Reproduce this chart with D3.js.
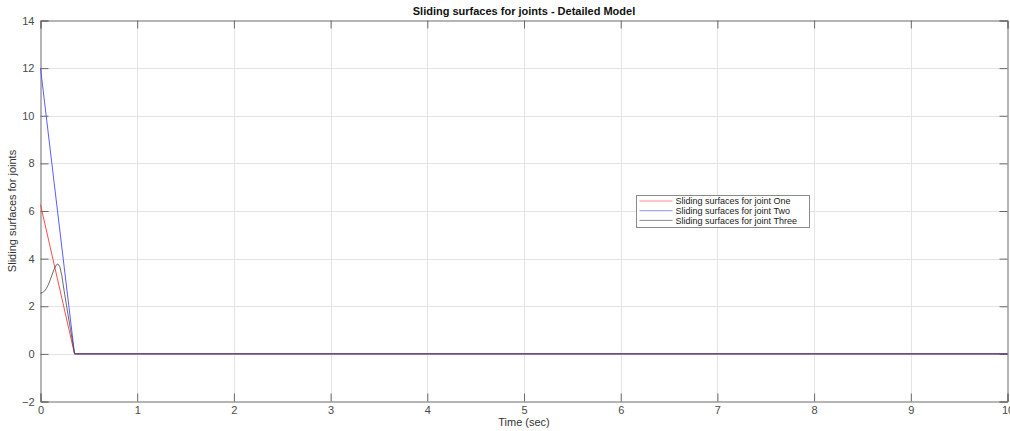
<!DOCTYPE html>
<html>
<head>
<meta charset="utf-8">
<script src="https://cdn.jsdelivr.net/npm/d3@7"></script>
<style>
  html, body { margin: 0; padding: 0; background: #fff; }
  svg { display: block; font-family: "Liberation Sans", Arial, Helvetica, sans-serif; }
</style>
</head>
<body>
<svg id="chart" width="1010" height="431"></svg>
<script>
// Sliding surface trajectories (time in seconds, surface value)
const timeOne   = [0, 0.352, 10];
const valueOne  = [6.27, 0, 0];

const timeTwo   = [0, 0.352, 10];
const valueTwo  = [12.0, 0, 0];

const timeThree  = [0, 0.02, 0.04, 0.06, 0.08, 0.10, 0.12, 0.14, 0.16, 0.18, 0.20, 0.22, 0.25, 0.28, 0.31, 0.352, 10];
const valueThree = [2.55, 2.57, 2.63, 2.74, 2.9, 3.1, 3.33, 3.55, 3.72, 3.78, 3.66, 3.3, 2.5, 1.76, 1.03, 0, 0];

const xTicks = [0, 1, 2, 3, 4, 5, 6, 7, 8, 9, 10];
const yTicks = [-2, 0, 2, 4, 6, 8, 10, 12, 14];

const seriesNames = [
  "Sliding surfaces for joint One",
  "Sliding surfaces for joint Two",
  "Sliding surfaces for joint Three"
];
const seriesColors = ["#ff3a3a", "#4a4aff", "#3a3a3a"];

const svg = d3.select("#chart");
const plotLeft = 40.5, plotRight = 1007.5, plotTop = 20.5, plotBottom = 401.5;

const x = d3.scaleLinear().domain([0, 10]).range([plotLeft, plotRight]);
const y = d3.scaleLinear().domain([-2, 14]).range([plotBottom, plotTop]);

// grid
const grid = svg.append("g");
grid.selectAll(".gx").data(xTicks.slice(1, -1)).join("line")
  .attr("x1", d => Math.round(x(d)) + 0.5).attr("x2", d => Math.round(x(d)) + 0.5)
  .attr("y1", plotTop).attr("y2", plotBottom)
  .attr("stroke", "#e4e4e4").attr("stroke-width", 1);
grid.selectAll(".gy").data(yTicks.slice(1, -1)).join("line")
  .attr("y1", d => Math.round(y(d)) + 0.5).attr("y2", d => Math.round(y(d)) + 0.5)
  .attr("x1", plotLeft).attr("x2", plotRight)
  .attr("stroke", "#e4e4e4").attr("stroke-width", 1);

// axes (box with inward ticks)
const tickLen = 8;
const axisColor = "#6a6a6a";
const fmt = d3.format("d");

const xAxisB = d3.axisBottom(x).tickValues(xTicks).tickSize(-tickLen).tickPadding(5).tickFormat(fmt);
const xAxisT = d3.axisTop(x).tickValues(xTicks).tickSize(-tickLen).tickFormat("");
const yAxisL = d3.axisLeft(y).tickValues(yTicks).tickSize(-tickLen).tickPadding(6).tickFormat(fmt);
const yAxisR = d3.axisRight(y).tickValues(yTicks).tickSize(-tickLen).tickFormat("");

function styleAxis(g) {
  g.select(".domain").attr("stroke", axisColor);
  g.selectAll(".tick line").attr("stroke", axisColor);
  g.selectAll(".tick text").attr("fill", "#4a4a4a").attr("font-size", 11)
    .attr("font-family", "'Liberation Sans', Arial, sans-serif");
}

svg.append("g").attr("transform", `translate(0,${plotBottom})`).call(xAxisB).call(styleAxis);
svg.append("g").attr("transform", `translate(0,${plotTop})`).call(xAxisT).call(styleAxis);
svg.append("g").attr("transform", `translate(${plotLeft},0)`).call(yAxisL).call(styleAxis);
svg.append("g").attr("transform", `translate(${plotRight},0)`).call(yAxisR).call(styleAxis);

// lines
const line = d3.line().x(d => x(d[0])).y(d => y(d[1]));
const series = [
  d3.zip(timeOne, valueOne),
  d3.zip(timeTwo, valueTwo),
  d3.zip(timeThree, valueThree)
];
const plot = svg.append("g");
series.forEach((s, i) => {
  plot.append("path").datum(s)
    .attr("fill", "none")
    .attr("stroke", seriesColors[i])
    .attr("stroke-width", 1)
    .attr("stroke-opacity", i === 2 ? 0.75 : 0.9)
    .attr("d", line);
});

// title and axis labels
svg.append("text")
  .attr("x", (plotLeft + plotRight) / 2).attr("y", 15)
  .attr("text-anchor", "middle")
  .attr("font-size", 11).attr("font-weight", "bold").attr("fill", "#111")
  .text("Sliding surfaces for joints - Detailed Model");

svg.append("text")
  .attr("x", (plotLeft + plotRight) / 2).attr("y", 426)
  .attr("text-anchor", "middle")
  .attr("font-size", 11).attr("fill", "#333")
  .text("Time (sec)");

svg.append("text")
  .attr("transform", `translate(16,${(plotTop + plotBottom) / 2}) rotate(-90)`)
  .attr("text-anchor", "middle")
  .attr("font-size", 11).attr("fill", "#333")
  .text("Sliding surfaces for joints");

// legend
const lg = svg.append("g").attr("transform", "translate(636.5,195.5)");
lg.append("rect").attr("width", 173).attr("height", 32)
  .attr("fill", "#fff").attr("stroke", "#8a8a8a").attr("stroke-width", 1);
seriesNames.forEach((name, i) => {
  const yy = 5.5 + i * 9.7;
  lg.append("line").attr("x1", 3).attr("x2", 36).attr("y1", yy).attr("y2", yy)
    .attr("stroke", seriesColors[i]).attr("stroke-width", 1).attr("stroke-opacity", 0.6);
  lg.append("text").attr("x", 39).attr("y", yy + 3.3)
    .attr("font-size", 9).attr("fill", "#222")
    .text(name);
});
</script>
</body>
</html>
